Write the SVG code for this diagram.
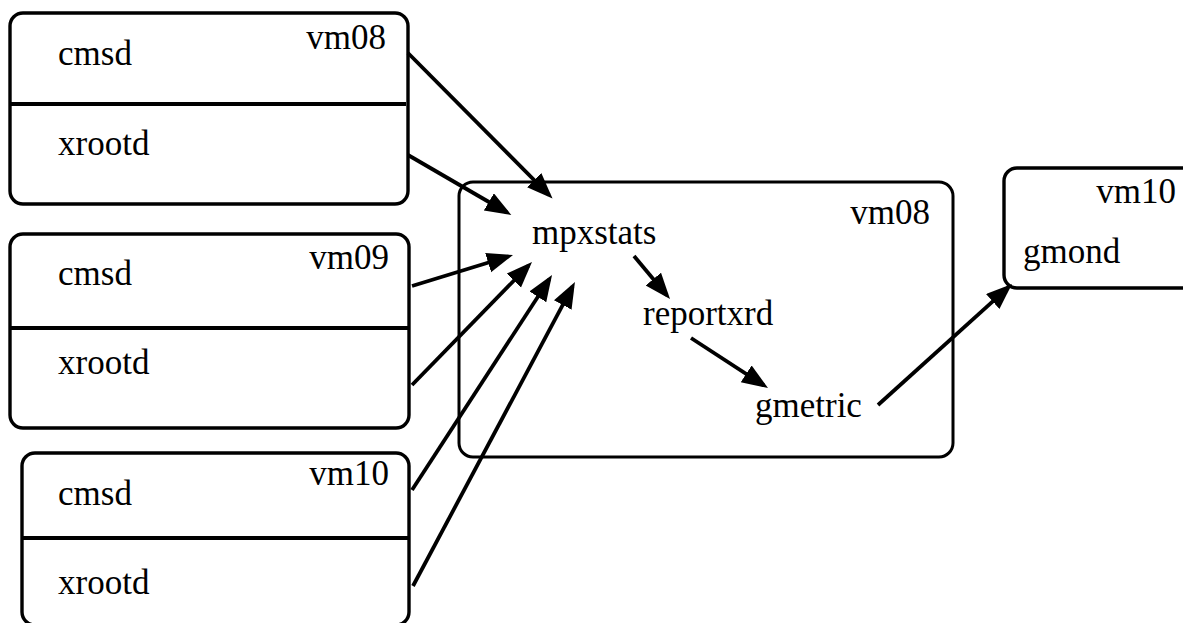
<svg xmlns="http://www.w3.org/2000/svg" width="1183" height="623" viewBox="0 0 1183 623">
<style>
.box{fill:none;stroke:#000;stroke-width:3.4}
.big{fill:none;stroke:#000;stroke-width:3}
.div{stroke:#000;stroke-width:4}
.t{font-family:'Liberation Serif','Times New Roman',serif;font-size:35px;fill:#000}
.e{text-anchor:end}
.c{stroke:#000;stroke-width:3.8;fill:none;marker-end:url(#ah)}
</style>
<defs>
<marker id="ah" markerUnits="userSpaceOnUse" markerWidth="30" markerHeight="22" refX="21" refY="10" orient="auto">
<path d="M0,0 L26,10 L0,20 z" fill="#000"/>
</marker>
</defs>
<rect width="1183" height="623" fill="#fff"/>
<g id="box-vm08-left">
<rect class="box" x="10" y="13" width="398" height="191" rx="13"/>
<line class="div" x1="10" y1="104" x2="406" y2="104"/>
<text class="t" x="58" y="65">cmsd</text>
<text class="t e" x="386" y="49">vm08</text>
<text class="t" x="58" y="155">xrootd</text>
</g>
<g id="box-vm09">
<rect class="box" x="10" y="234" width="399" height="194" rx="13"/>
<line class="div" x1="10" y1="328" x2="408" y2="328"/>
<text class="t" x="58" y="285">cmsd</text>
<text class="t e" x="389" y="269">vm09</text>
<text class="t" x="58" y="374">xrootd</text>
</g>
<g id="box-vm10-left">
<rect class="box" x="22" y="453" width="387" height="172" rx="13"/>
<line class="div" x1="22" y1="538" x2="408" y2="538"/>
<text class="t" x="58" y="505">cmsd</text>
<text class="t e" x="389" y="485">vm10</text>
<text class="t" x="58" y="594">xrootd</text>
</g>
<g id="box-vm08-main">
<rect class="big" x="459" y="182" width="494" height="275" rx="14"/>
<text class="t e" x="930" y="224">vm08</text>
</g>
<g id="mpxstats"><text class="t" x="532" y="244">mpxstats</text></g>
<g id="reportxrd"><text class="t" x="643" y="325">reportxrd</text></g>
<g id="gmetric"><text class="t" x="755" y="417">gmetric</text></g>
<g id="box-vm10-right">
<rect class="box" x="1004" y="168" width="200" height="120" rx="13"/>
<text class="t e" x="1176" y="203">vm10</text>
<text class="t" x="1023" y="263">gmond</text>
</g>
<g id="connectors">
<line class="c" x1="408" y1="53" x2="549" y2="195"/>
<line class="c" x1="408" y1="155" x2="507" y2="212.5"/>
<line class="c" x1="412" y1="286" x2="508.2" y2="256.5"/>
<line class="c" x1="412" y1="385" x2="528.5" y2="265.6"/>
<line class="c" x1="412" y1="490" x2="549.3" y2="279.2"/>
<line class="c" x1="413" y1="586" x2="572.6" y2="286.4"/>
<line class="c" x1="634" y1="256" x2="666.8" y2="295.2"/>
<line class="c" x1="691" y1="338" x2="763.8" y2="385.3"/>
<line class="c" x1="878" y1="405" x2="1008.3" y2="287.4"/>
</g>
</svg>
